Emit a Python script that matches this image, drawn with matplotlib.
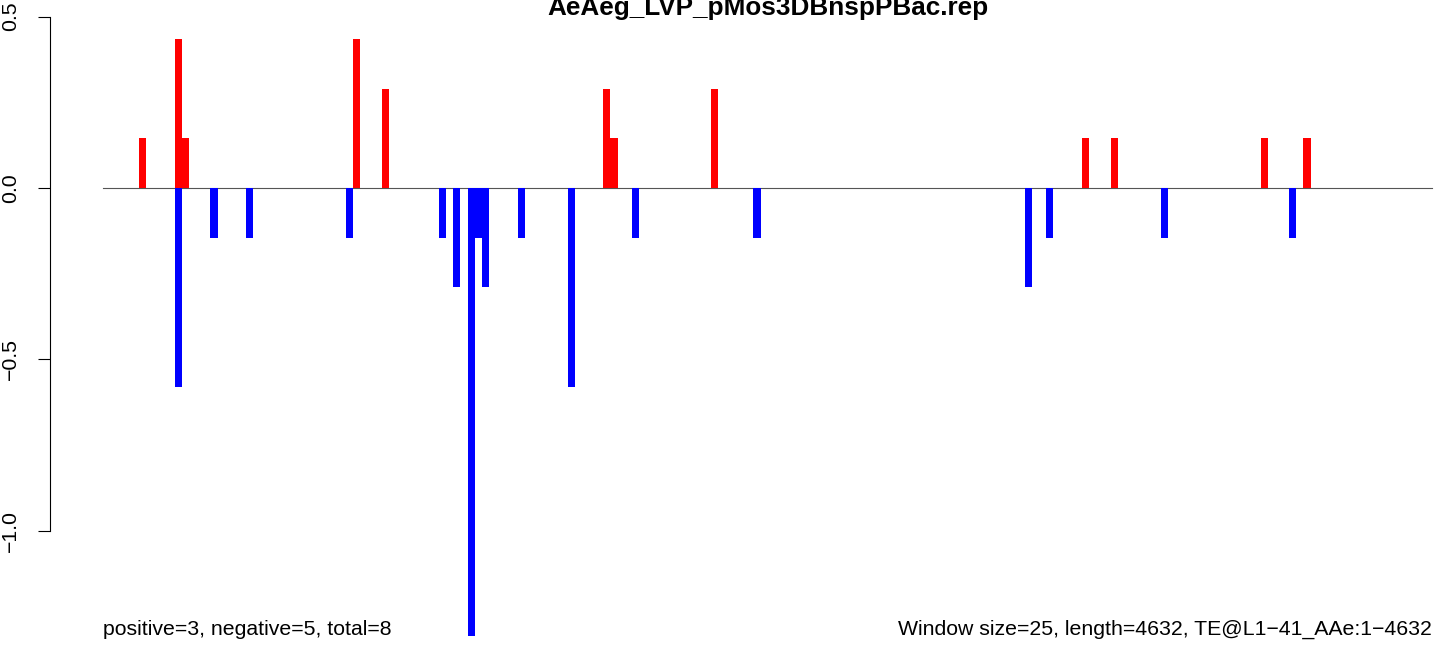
import matplotlib
matplotlib.use("Agg")
import matplotlib.pyplot as plt

# Window data (bin index along the TE, value per window)
n_bins = 186
pos_bins = [5, 10, 11, 35, 39, 70, 71, 85, 137, 141, 162, 168]
pos_vals = [0.145, 0.435, 0.145, 0.435, 0.290, 0.290, 0.145, 0.290,
            0.145, 0.145, 0.145, 0.145]
neg_bins = [10, 15, 20, 34, 47, 49, 51, 52, 53, 58, 65, 74, 91, 129, 132, 148, 166]
neg_vals = [-0.581, -0.145, -0.145, -0.145, -0.145, -0.290, -1.307, -0.145,
            -0.290, -0.145, -0.581, -0.145, -0.145, -0.290, -0.145, -0.145, -0.145]
y_ticks = [-1.0, -0.5, 0.0, 0.5]
y_tick_labels = ["\u22121.0", "\u22120.5", "0.0", "0.5"]

title = "AeAeg_LVP_pMos3DBnspPBac.rep"
left_note = "positive=3, negative=5, total=8"
right_note = "Window size=25, length=4632, TE@L1\u221241_AAe:1\u22124632"


def draw_plot():
    plt.rcParams["font.family"] = ["Liberation Sans", "DejaVu Sans"]
    W, H = 1444, 648
    fig = plt.figure(figsize=(W / 100, H / 100), dpi=100)
    ax = fig.add_axes([50 / W, 0, (W - 50) / W, 1])

    # pixel geometry of the plot region
    x0, x1 = 103.3, 1432.0
    bw = (x1 - x0) / n_bins
    ax.set_xlim((50 - x0) / bw, (W - x0) / bw)
    y0, ppu = 188.0, 342.7
    ax.set_ylim(-(H - y0) / ppu, y0 / ppu)

    # zero line and bars
    ax.plot([0, n_bins], [0, 0], color="#555555", lw=0.8, zorder=1)
    ax.bar(pos_bins, pos_vals, width=1, align="edge", color="#ff0000",
           linewidth=0, zorder=2)
    ax.bar(neg_bins, neg_vals, width=1, align="edge", color="#0000ff",
           linewidth=0, zorder=2)

    # R style y axis
    for s in ["top", "right", "bottom"]:
        ax.spines[s].set_visible(False)
    ax.spines["left"].set_bounds(-1.0, 0.5)
    ax.spines["left"].set_linewidth(0.8)
    ax.set_xticks([])
    ax.set_yticks(y_ticks)
    ax.set_yticklabels(y_tick_labels, fontsize=15.3)
    ax.tick_params(axis="y", length=8.6, width=0.8, pad=13)
    plt.setp(ax.get_yticklabels(), rotation=90, va="center")

    # notes and title
    ny = -(635 - y0) / ppu
    ax.text(0, ny, left_note, ha="left", va="baseline", fontsize=15.3)
    ax.text(n_bins, ny, right_note, ha="right", va="baseline", fontsize=15.3)
    fig.text(768 / W, 1 - 15 / H, title, ha="center", va="baseline",
             fontsize=18.8, fontweight="bold")

    plt.savefig("out.png", dpi=100)
    return ax


draw_plot()
